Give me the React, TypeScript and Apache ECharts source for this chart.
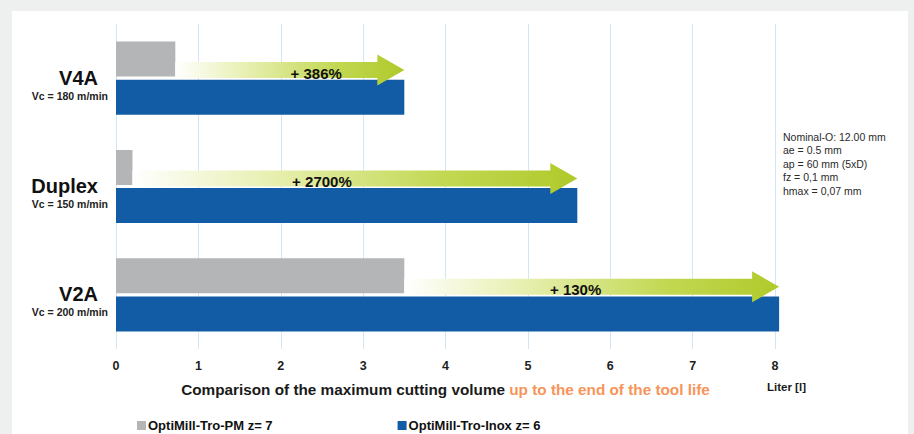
import React, { useEffect, useRef } from "react";
import * as echarts from "echarts";

const categories = ["V4A", "Duplex", "V2A"];
const speeds = ["Vc = 180 m/min", "Vc = 150 m/min", "Vc = 200 m/min"];
const seriesNames = ["OptiMill-Tro-PM z= 7", "OptiMill-Tro-Inox z= 6"];
const pmValues = [0.72, 0.2, 3.5];
const inoxValues = [3.5, 5.6, 8.05];
const gainLabels = ["+ 386%", "+ 2700%", "+ 130%"];
const gainLabelAt = [2.43, 2.5, 5.58];
const xTicks = [0, 1, 2, 3, 4, 5, 6, 7, 8];
const noteLines = [
  "Nominal-O: 12.00 mm",
  "ae = 0.5 mm",
  "ap = 60 mm (5xD)",
  "fz = 0,1 mm",
  "hmax = 0,07 mm",
];

const FONT = "'Liberation Sans', Arial, sans-serif";

export default function App() {
  const ref = useRef<HTMLDivElement>(null);

  useEffect(() => {
    if (!ref.current) return;
    const chart = echarts.init(ref.current, undefined, { renderer: "svg" });
    const arrowData = categories.map((_, i) => [pmValues[i], inoxValues[i], i, gainLabelAt[i]]);

    chart.setOption({
      animation: false,
      textStyle: { fontFamily: FONT },
      grid: { left: 116, right: 139, top: 24, bottom: 85 },
      xAxis: {
        type: "value",
        min: xTicks[0],
        max: xTicks[xTicks.length - 1],
        interval: 1,
        axisLine: { show: false },
        axisTick: { show: false },
        splitLine: { show: true, lineStyle: { color: "#d2e6f5", width: 1 } },
        axisLabel: {
          margin: 10,
          color: "#1e1e1e",
          fontWeight: "bold",
          fontSize: 12.5,
          fontFamily: FONT,
        },
        name: "{a|Comparison of the maximum cutting volume }{b|up to the end of the tool life}",
        nameLocation: "middle",
        nameGap: 33,
        nameTextStyle: {
          rich: {
            a: { fontSize: 15.3, fontWeight: "bold", color: "#1a1a1a", fontFamily: FONT },
            b: { fontSize: 15.3, fontWeight: "bold", color: "#f6955a", fontFamily: FONT },
          },
        },
      },
      yAxis: {
        type: "category",
        data: categories,
        inverse: true,
        axisLine: { show: false },
        axisTick: { show: false },
        splitLine: { show: false },
        axisLabel: {
          margin: 8,
          padding: [13, 0, 0, 0],
          formatter: (v: string, i: number) => `{a|${v}}\n{b|${speeds[i]}}`,
          rich: {
            a: {
              fontSize: 20,
              fontWeight: "bold",
              color: "#111",
              lineHeight: 22,
              align: "right",
              padding: [0, 10, 0, 0],
              fontFamily: FONT,
            },
            b: {
              fontSize: 10.5,
              fontWeight: "bold",
              color: "#222",
              lineHeight: 14,
              align: "right",
              fontFamily: FONT,
            },
          },
        },
      },
      legend: {
        left: 132,
        top: 414,
        icon: "rect",
        itemWidth: 9,
        itemHeight: 9,
        itemGap: 125,
        data: seriesNames,
        textStyle: { fontSize: 13, fontWeight: "bold", color: "#111", fontFamily: FONT, padding: [0, 0, 0, -3] },
      },
      graphic: [
        {
          type: "text",
          left: 767,
          top: 381,
          style: { text: "Liter [l]", font: `bold 11.5px ${FONT}`, fill: "#1a1a1a" },
        },
        {
          type: "text",
          left: 783,
          top: 130,
          style: {
            text: noteLines.join("\n"),
            font: `10.5px ${FONT}`,
            lineHeight: 13.5,
            fill: "#2a2a2a",
          },
        },
      ],
      series: [
        {
          name: seriesNames[0],
          type: "bar",
          data: pmValues,
          barWidth: 35,
          barGap: "9%",
          clip: false,
          itemStyle: { color: "#b3b5b6" },
          z: 2,
        },
        {
          name: seriesNames[1],
          type: "bar",
          data: inoxValues,
          barWidth: 35,
          barGap: "9%",
          clip: false,
          itemStyle: { color: "#125ca6" },
          z: 2,
        },
        {
          type: "custom",
          z: 5,
          clip: false,
          data: arrowData,
          encode: { x: [0, 1], y: 2 },
          renderItem: (params: any, api: any) => {
            const idx = api.value(2);
            const s = api.coord([api.value(0), idx]);
            const e = api.coord([api.value(1), idx]);
            const t = api.coord([api.value(3), idx]);
            const band = api.size([0, 1])[1];
            const cy = s[1] - band * 0.075;
            const x0 = s[0];
            const xe = e[0];
            const sh = 8;
            const hh = 15.5;
            const hl = 27;
            const label = gainLabels[params.dataIndex];
            return {
              type: "group",
              children: [
                {
                  type: "polygon",
                  shape: {
                    points: [
                      [x0, cy - sh],
                      [xe - hl, cy - sh],
                      [xe - hl, cy - hh],
                      [xe, cy],
                      [xe - hl, cy + hh],
                      [xe - hl, cy + sh],
                      [x0, cy + sh],
                    ],
                  },
                  style: {
                    fill: new echarts.graphic.LinearGradient(0, 0, 1, 0, [
                      { offset: 0, color: "#ffffff" },
                      { offset: 0.3, color: "#e9f0b4" },
                      { offset: 0.7, color: "#c2d852" },
                      { offset: 1, color: "#afca2b" },
                    ]),
                  },
                },
                {
                  type: "text",
                  style: {
                    x: t[0],
                    y: cy + 3,
                    text: label,
                    font: `bold 15px ${FONT}`,
                    fill: "#111",
                    align: "center",
                    verticalAlign: "middle",
                  },
                },
              ],
            };
          },
        },
      ],
    });
    return () => chart.dispose();
  }, []);

  return (
    <div style={{ position: "absolute", left: 0, top: 0, width: 914, height: 434, background: "#edf0ef", overflow: "hidden" }}>
      <div style={{ position: "absolute", left: 12, top: 11, width: 896, height: 430, background: "#ffffff" }} />
      <div ref={ref} style={{ position: "absolute", left: 0, top: 0, width: 914, height: 434 }} />
    </div>
  );
}
